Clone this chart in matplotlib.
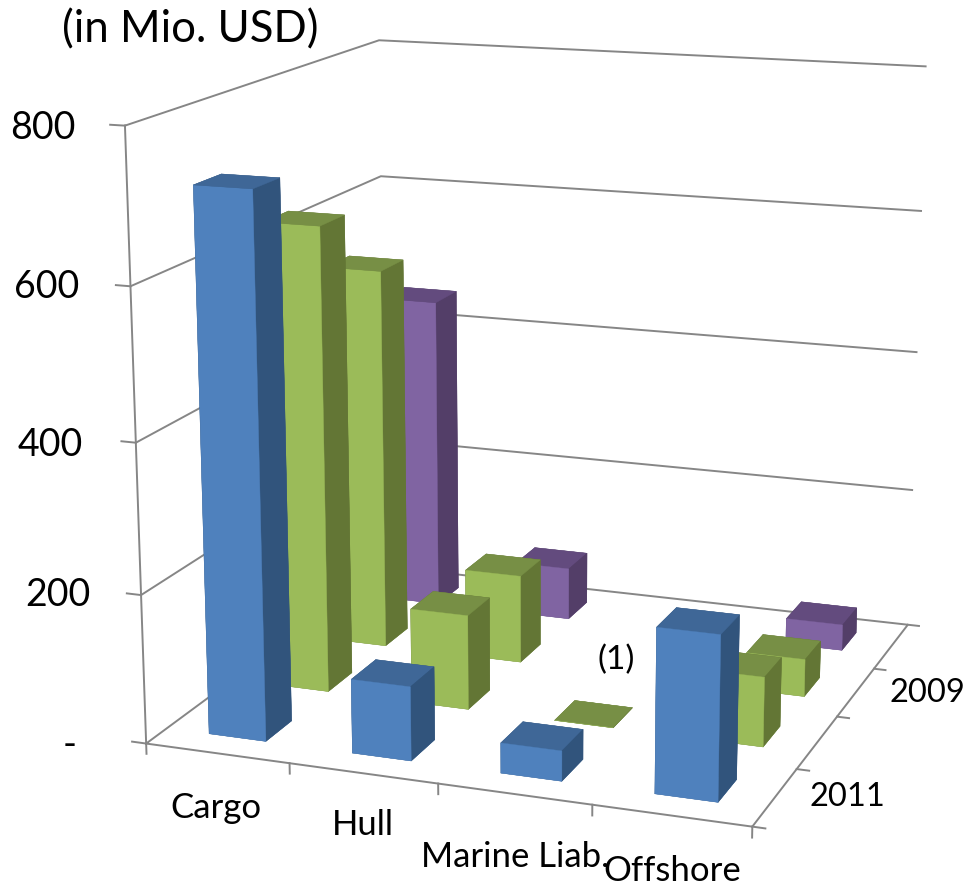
import numpy as np
import matplotlib
matplotlib.use('Agg')
import matplotlib.pyplot as plt

plt.rcParams['font.family'] = ['Lato', 'DejaVu Sans']

W, H = 965, 886

categories = ['Cargo', 'Hull', 'Marine Liab.', 'Offshore']
years = ['2011', '2010', '2009', '2008']
z_ticks = [0, 200, 400, 600, 800]
z_labels = ['-', '200', '400', '600', '800']

v_2011 = [720, 99, 40, 215]
v_2010 = [636, 130, 0, 94]
v_2009 = [536, 124, np.nan, 52]
v_2008 = [450, 75, np.nan, 37]
values = [v_2011, v_2010, v_2009, v_2008]

# face colours in bar3d order: -z, +z, -y, +y, -x, +x
blue = ['#3f6797', '#3f6797', '#4f81bd', '#31547c', '#31547c', '#31547c']
green = ['#778f45', '#778f45', '#9bbb59', '#637635', '#637635', '#637635']
purple = ['#634b7e', '#634b7e', '#8064a2', '#533e68', '#533e68', '#533e68']
row_colors = [blue, green, green, purple]
grid = '#868686'

fig = plt.figure(figsize=(W / 100, H / 100), dpi=100)
ax = fig.add_subplot(projection='3d', computed_zorder=False)
ax.set_axis_off()
ax.set_position([-0.05471, -0.06433, 1.06851, 1.16379])

n_x, n_y, z_top = len(categories), len(years), z_ticks[-1]

# walls and floor
for z in z_ticks[1:]:
    ax.plot([0, 0, n_x], [0, n_y, n_y], [z, z, z], color=grid, lw=1.4, zorder=1)
ax.plot([0, n_x, n_x, 0, 0], [0, 0, n_y, n_y, 0], [0] * 5, color=grid, lw=1.4, zorder=1)
ax.plot([0, 0], [0, 0], [0, z_top], color=grid, lw=1.4, zorder=1)

# tick marks
for z in z_ticks:
    ax.plot([0, -0.1], [0, 0], [z, z], color=grid, lw=1.4, zorder=1)
for x in range(n_x + 1):
    ax.plot([x, x], [0, 0], [0, -14], color=grid, lw=1.4, zorder=1)
for y in range(n_y + 1):
    ax.plot([n_x, n_x + 0.08], [y, y], [0, 0], color=grid, lw=1.4, zorder=1)

# back row first, left to right, so that nearer bars cover the others
order = 2
for r in range(n_y - 1, -1, -1):
    for c in range(n_x):
        h = values[r][c]
        if np.isnan(h):
            continue
        ax.bar3d(c + 0.3, r + 0.3, 0, 0.4, 0.4, h, color=row_colors[r], shade=False,
                 edgecolor=row_colors[r], linewidth=0.3, zorder=order)
        order += 1

# camera, set last because bar3d rescales the limits
ax.view_init(elev=14.6875, azim=-68.9922, roll=0.3047)
ax.set_proj_type('persp', focal_length=0.5548)
ax.set_xlim(-0.3525, n_x - 0.3525, view_margin=0)
ax.set_ylim(-0.3799, n_y - 0.3799, view_margin=0)
ax.set_zlim(-12.8906, z_top - 12.8906, view_margin=0)
ax.set_box_aspect((1.0051, 1, 0.9977))


def label(px, py, txt, size):
    fig.text(px / W, 1 - py / H, txt, fontsize=size, ha='center', va='center')


label(190, 30, '(in Mio. USD)', 31.5)
for txt, px, py in zip(z_labels, [70, 58, 50, 47, 43], [745, 595, 445, 287, 128]):
    label(px, py, txt, 27)
for txt, px, py in zip(categories, [216, 363, 515, 672], [808, 825, 857, 871]):
    label(px, py, txt, 25)
label(927, 693, years[2], 23.5)
label(847, 797, years[0], 23.5)
label(616, 660, '(1)', 24)

fig.savefig('out.png', dpi=100)
